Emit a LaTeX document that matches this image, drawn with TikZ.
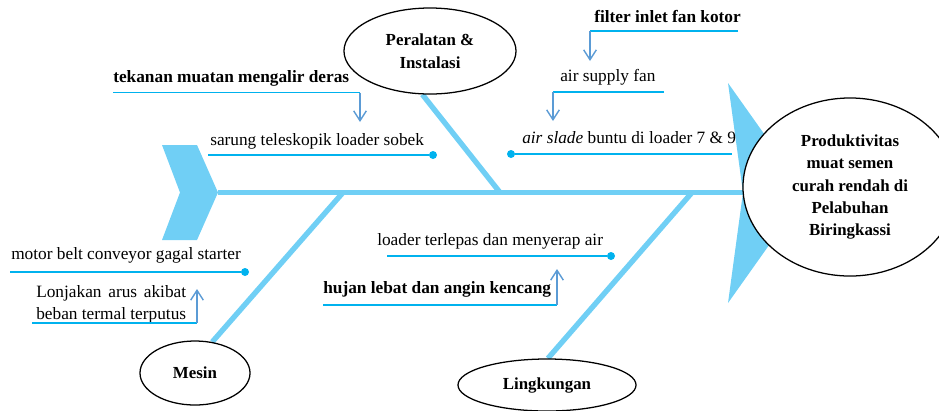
\documentclass[tikz,border=0pt]{standalone}
\usepackage{fontspec}
\setmainfont{Liberation Serif}
\usetikzlibrary{arrows.meta, positioning, shapes.geometric}
\definecolor{bonecol}{RGB}{112,207,245}
\definecolor{twigcol}{RGB}{0,178,238}
\definecolor{pointcol}{RGB}{91,155,213}
\pgfdeclarelayer{bg}
\pgfsetlayers{bg,main}

\begin{document}
\begin{tikzpicture}[x=0.025cm, y=-0.025cm,
  catnode/.style={ellipse, draw=black, line width=0.9pt, fill=white, align=center, inner sep=0pt, font=\fontsize{12}{16}\selectfont\bfseries},
  cause/.style={anchor=base west, inner sep=0pt, font=\fontsize{12.3}{15.6}\selectfont},
  causeb/.style={cause, font=\fontsize{12.3}{15.6}\selectfont\bfseries},
  twig/.style={draw=twigcol, line width=1.1pt},
  pointer/.style={draw=pointcol, line width=1pt, -{Straight Barb[length=7pt, width=9pt]}},
  dot/.style={circle, fill=twigcol, inner sep=0pt, minimum size=0.2cm},
  bone/.style={draw=bonecol, line width=3.8pt}
]
\useasboundingbox (0,0) rectangle (939,410);
\clip (0,0) rectangle (939,410);
% fish tail and head
\coordinate (tailtip) at (218,192.5);
\coordinate (headnotch) at (743,192.5);
\fill[bonecol] (162,145) -- (197,145) -- (tailtip) -- (197,240) -- (162,240) -- (180,192.5) -- cycle;
\fill[bonecol] (728,83) -- (806,193) -- (728,303) -- (headnotch) -- cycle;
\draw[bone] (tailtip) -- (headnotch);
% categories and effect
\node[catnode, minimum width=4.3cm, minimum height=2.15cm] (peralatan) at (430,51) {Peralatan \&\\Instalasi};
\node[catnode, minimum width=2.75cm, minimum height=1.6cm] (mesin) at (195,373) {Mesin};
\node[catnode, minimum width=4.45cm, minimum height=1.3cm] (lingkungan) at (547,385) {Lingkungan};
\node[catnode, minimum width=5.35cm, minimum height=4.45cm] (effect) at (850,187) {Produktivitas\\muat semen\\curah rendah di\\Pelabuhan\\Biringkassi};
\coordinate (jp) at (500,192.5);
\coordinate (jm) at (343,192.5);
\coordinate (jl) at (692,192.5);
\begin{pgfonlayer}{bg}
\draw[bone] (peralatan.260) -- (jp);
\draw[bone] (mesin.61) -- (jm);
\draw[bone] (lingkungan.88) -- (jl);
\end{pgfonlayer}
% causes, upper left
\node[causeb] (tekanan) at (113,82) {tekanan muatan mengalir deras};
\coordinate (tk1) at (113,92.5);
\coordinate (tk2) at (360,92.5);
\coordinate (tk3) at (360,122);
\draw[twig] (tk1) -- (tk2);
\draw[pointer] (tk2) -- (tk3);
\node[cause] (sarung) at (210,145) {sarung teleskopik loader sobek};
\coordinate (sr1) at (208,155);
\node[dot] (srdot) at (433,155) {};
\draw[twig] (sr1) -- (srdot);
% causes, upper right
\node[causeb] (filter) at (594,22) {filter inlet fan kotor};
\coordinate (fl1) at (738,31);
\coordinate (fl2) at (590,31);
\coordinate (fl3) at (590,61);
\draw[twig] (fl1) -- (fl2);
\draw[pointer] (fl2) -- (fl3);
\node[cause] (supply) at (560,81) {air supply fan};
\coordinate (su1) at (664,92);
\coordinate (su2) at (553,92);
\coordinate (su3) at (553,121);
\draw[twig] (su1) -- (su2);
\draw[pointer] (su2) -- (su3);
\node[cause] (slade) at (522,143) {\textit{air slade} buntu di loader 7 \& 9};
\node[dot] (sldot) at (511,154) {};
\coordinate (sl1) at (732,154);
\draw[twig] (sldot) -- (sl1);
% causes, lower left
\node[cause] (motor) at (11,259) {motor belt conveyor gagal starter};
\coordinate (mt1) at (10,272);
\node[dot] (mtdot) at (245,272) {};
\draw[twig] (mt1) -- (mtdot);
\node[cause, align=left] (lonjakan) at (36,319) {{\setbox0\hbox{beban termal terputus}\makebox[\wd0][s]{Lonjakan arus akibat}}\\beban termal terputus};
\coordinate (lj1) at (32,323);
\coordinate (lj2) at (197,323);
\coordinate (lj3) at (197,289);
\draw[twig] (lj1) -- (lj2);
\draw[pointer] (lj2) -- (lj3);
% causes, lower right
\node[cause] (terlepas) at (377,245) {loader terlepas dan menyerap air};
\coordinate (tl1) at (387,256);
\node[dot] (tldot) at (611,256) {};
\draw[twig] (tl1) -- (tldot);
\node[causeb] (hujan) at (323,293) {hujan lebat dan angin kencang};
\coordinate (hj1) at (323,305);
\coordinate (hj2) at (557,305);
\coordinate (hj3) at (557,269);
\draw[twig] (hj1) -- (hj2);
\draw[pointer] (hj2) -- (hj3);
\end{tikzpicture}
\end{document}
